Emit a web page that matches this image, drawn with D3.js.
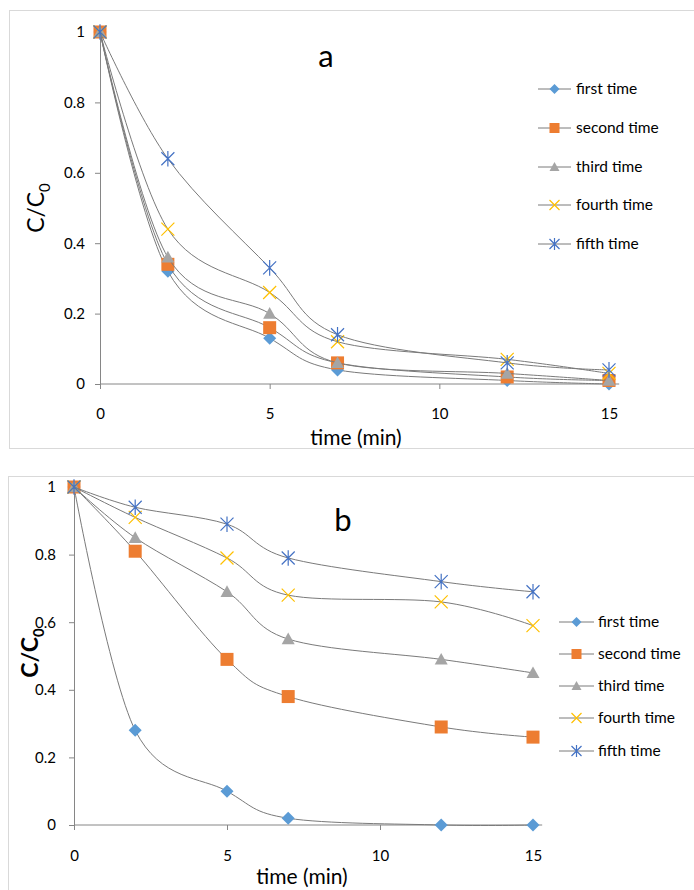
<!DOCTYPE html>
<html>
<head>
<meta charset="utf-8">
<script src="https://cdn.jsdelivr.net/npm/d3@7"></script>
<style>
  body { margin: 0; background: #fff; }
  svg text { font-family: Lato, "Liberation Sans", sans-serif; fill: #000; }
</style>
</head>
<body>
<svg id="chart"></svg>
<script>
const width = 694;
const height = 890;

// sampling times (min)
const times = [0, 2, 5, 7, 12, 15];
const seriesNames = ["first time", "second time", "third time", "fourth time", "fifth time"];
const markerTypes = ["diamond", "square", "triangle", "cross", "star"];
const markerColors = ["#5B9BD5", "#ED7D31", "#A5A5A5", "#FFC000", "#4472C4"];
const xTicks = [0, 5, 10, 15];
const yTicks = [0, 0.2, 0.4, 0.6, 0.8, 1];

// panel a values (C/C0)
const aFirst  = [1, 0.32, 0.13, 0.04, 0.01, 0.00];
const aSecond = [1, 0.34, 0.16, 0.06, 0.02, 0.01];
const aThird  = [1, 0.36, 0.20, 0.06, 0.03, 0.01];
const aFourth = [1, 0.44, 0.26, 0.12, 0.07, 0.03];
const aFifth  = [1, 0.64, 0.33, 0.14, 0.06, 0.04];

// panel b values (C/C0)
const bFirst  = [1, 0.28, 0.10, 0.02, 0.00, 0.00];
const bSecond = [1, 0.81, 0.49, 0.38, 0.29, 0.26];
const bThird  = [1, 0.85, 0.69, 0.55, 0.49, 0.45];
const bFourth = [1, 0.91, 0.79, 0.68, 0.66, 0.59];
const bFifth  = [1, 0.94, 0.89, 0.79, 0.72, 0.69];

var svg = d3.select("#chart")
    .attr("width", width)
    .attr("height", height)
    .attr("viewBox", `0 0 ${width} ${height}`);

// draws one Excel style marker centred on 0,0
function marker(g, type, s, color) {
    const h = s / 2;
    if (type === "diamond") {
        g.append("path").attr("d", `M0,${-h}L${h},0L0,${h}L${-h},0Z`).attr("fill", color);
    } else if (type === "square") {
        g.append("rect").attr("x", -h).attr("y", -h).attr("width", s).attr("height", s).attr("fill", color);
    } else if (type === "triangle") {
        g.append("path").attr("d", `M0,${-h}L${h},${h * 0.8}L${-h},${h * 0.8}Z`).attr("fill", color);
    } else if (type === "cross") {
        g.append("path").attr("d", `M${-h},${-h}L${h},${h}M${h},${-h}L${-h},${h}`)
            .attr("stroke", color).attr("stroke-width", 1.2).attr("fill", "none");
    } else {
        g.append("path").attr("d", `M${-h},${-h}L${h},${h}M${h},${-h}L${-h},${h}M0,${-h * 1.2}L0,${h * 1.2}`)
            .attr("stroke", color).attr("stroke-width", 1.2).attr("fill", "none");
    }
}

function drawPanel(opt) {
    const g = svg.append("g");

    // chart frame
    g.append("rect")
        .attr("x", opt.frame[0]).attr("y", opt.frame[1])
        .attr("width", opt.frame[2]).attr("height", opt.frame[3])
        .attr("fill", "none").attr("stroke", "#d9d9d9");

    const x = d3.scaleLinear().domain([0, 15]).range(opt.xRange);
    const y = d3.scaleLinear().domain([0, 1]).range(opt.yRange);

    // y axis
    const yAxis = g.append("g")
        .attr("transform", `translate(${x(0)},0)`)
        .call(d3.axisLeft(y).tickValues(yTicks).tickSize(5).tickPadding(opt.yPad)
            .tickFormat(d => d3.format("")(+d.toFixed(1))));
    yAxis.select(".domain").attr("stroke", "#868686");
    yAxis.selectAll(".tick line").attr("stroke", "#868686");
    yAxis.selectAll("text").style("font-size", "15px");

    // x axis
    const xAxis = g.append("g")
        .attr("transform", `translate(0,${y(0)})`)
        .call(d3.axisBottom(x).tickValues(xTicks).tickSize(5).tickPadding(opt.xPad).tickSizeOuter(0));
    xAxis.select(".domain").attr("stroke", "#868686")
        .attr("d", `M${x(0)},0H${x(15.3)}`);
    xAxis.selectAll(".tick line").attr("stroke", "#868686");
    xAxis.selectAll("text").style("font-size", "15px");

    const line = d3.line()
        .x(d => x(d[0]))
        .y(d => y(d[1]))
        .curve(d3.curveCardinal.tension(0));

    opt.series.forEach((vals, i) => {
        const pts = times.map((t, k) => [t, vals[k]]);
        g.append("path")
            .datum(pts)
            .attr("d", line)
            .attr("fill", "none")
            .attr("stroke", "#7a7a7a")
            .attr("stroke-width", 1);
        pts.forEach(p => {
            const m = g.append("g").attr("transform", `translate(${x(p[0])},${y(p[1])})`);
            marker(m, markerTypes[i], opt.markerSize, markerColors[i]);
        });
    });

    // panel letter
    g.append("text")
        .attr("x", opt.letter[0]).attr("y", opt.letter[1])
        .attr("text-anchor", "middle")
        .style("font-size", "31px")
        .text(opt.letterText);

    // axis titles
    g.append("text")
        .attr("x", opt.xTitle[0]).attr("y", opt.xTitle[1])
        .attr("text-anchor", "middle")
        .style("font-size", "21px")
        .text("time (min)");

    const yt = g.append("text")
        .attr("transform", `translate(${opt.yTitle[0]},${opt.yTitle[1]}) rotate(-90)`)
        .attr("text-anchor", "middle")
        .style("font-size", "23px")
        .style("font-weight", opt.yBold ? "bold" : "normal");
    yt.append("tspan").text("C/C");
    yt.append("tspan").attr("dy", 6).style("font-size", "15px").text("0");

    // legend
    const leg = g.append("g");
    seriesNames.forEach((name, i) => {
        const ly = opt.legend.y[i];
        const row = leg.append("g").attr("transform", `translate(0,${ly})`);
        row.append("line")
            .attr("x1", opt.legend.x0).attr("x2", opt.legend.x1)
            .attr("stroke", "#7a7a7a").attr("stroke-width", 1);
        const m = row.append("g").attr("transform", `translate(${(opt.legend.x0 + opt.legend.x1) / 2},0)`);
        marker(m, markerTypes[i], 10, markerColors[i]);
        row.append("text")
            .attr("x", opt.legend.tx).attr("y", 5)
            .style("font-size", "15.5px")
            .text(name);
    });
}

drawPanel({
    frame: [9.5, 10.5, 700, 438],
    xRange: [100, 609],
    yRange: [384, 32],
    xPad: 19, yPad: 10,
    markerSize: 13,
    series: [aFirst, aSecond, aThird, aFourth, aFifth],
    letter: [326, 67], letterText: "a",
    xTitle: [356, 445],
    yTitle: [44, 208], yBold: false,
    legend: { x0: 538, x1: 571, tx: 576, y: [89, 128, 167, 205, 244] }
});

drawPanel({
    frame: [8.5, 476.5, 700, 430],
    xRange: [74, 533],
    yRange: [825, 487],
    xPad: 20, yPad: 13,
    markerSize: 13,
    series: [bFirst, bSecond, bThird, bFourth, bFifth],
    letter: [343, 531], letterText: "b",
    xTitle: [302, 884],
    yTitle: [38, 653], yBold: true,
    legend: { x0: 559, x1: 594, tx: 598, y: [622, 654, 686, 718, 751] }
});
</script>
</body>
</html>
